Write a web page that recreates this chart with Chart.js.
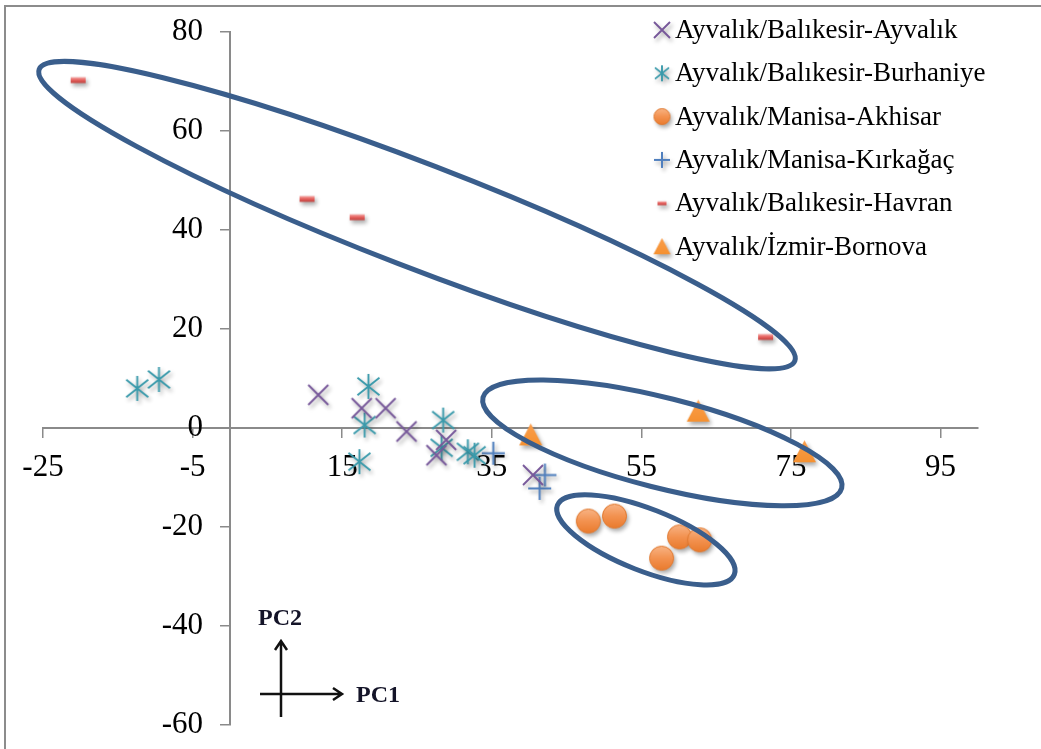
<!DOCTYPE html>
<html>
<head>
<meta charset="utf-8">
<script src="https://cdn.jsdelivr.net/npm/chart.js@4.4.1/dist/chart.umd.min.js"></script>
<style>
  html, body { margin: 0; padding: 0; background: #fff; }
  #wrap { position: relative; width: 1041px; height: 749px; overflow: hidden; }
  #frame { position: absolute; left: 4px; top: 5px; width: 1100px; height: 800px; border: 2px solid #8c8c8c; }
  #c { position: absolute; left: 0; top: 0; }
</style>
</head>
<body>
<div id="wrap">
  <div id="frame"></div>
  <canvas id="c" width="1041" height="749"></canvas>
</div>
<script>
// series
const seriesNames = [
  'Ayvalık/Balıkesir-Ayvalık',
  'Ayvalık/Balıkesir-Burhaniye',
  'Ayvalık/Manisa-Akhisar',
  'Ayvalık/Manisa-Kırkağaç',
  'Ayvalık/Balıkesir-Havran',
  'Ayvalık/İzmir-Bornova'
];
const ayvalikX = [11.8, 17.6, 20.8, 23.6, 28.9, 27.6, 40.5];
const ayvalikY = [6.7, 4.0, 4.0, -0.7, -2.4, -5.5, -9.5];
const burhaniyeX = [-12.4, -9.5, 18.5, 18.0, 17.3, 28.5, 28.3, 31.8, 32.7];
const burhaniyeY = [8.0, 9.8, 8.4, 0.6, -6.8, 1.6, -4.0, -4.8, -5.5];
const akhisarX = [47.9, 51.4, 60.1, 62.8, 57.7];
const akhisarY = [-18.8, -17.8, -22.0, -22.6, -26.3];
const kirkagacX = [35.2, 42.1, 41.4];
const kirkagacY = [-5.1, -9.5, -12.2];
const havranX = [-20.3, 10.3, 17.0, 71.6];
const havranY = [70.3, 46.3, 42.6, 18.4];
const bornovaX = [40.2, 62.6, 76.8];
const bornovaY = [-1.4, 3.4, -4.8];

const xTicks = [-25, -5, 15, 35, 55, 75, 95];
const yTicks = [-60, -40, -20, 0, 20, 40, 60, 80];

const pts = (xs, ys) => xs.map((x, i) => ({ x: x, y: ys[i] }));

// marker images (Excel look, with soft shadow)
function makeMarker(kind, size) {
  const pad = 8;
  const w = size + pad * 2, h = size + pad * 2;
  const cv = document.createElement('canvas');
  cv.width = w; cv.height = h;
  const g = cv.getContext('2d');
  g.translate(w / 2, h / 2);
  g.shadowColor = 'rgba(0,0,0,0.35)';
  g.shadowBlur = 4; g.shadowOffsetX = 2; g.shadowOffsetY = 3;
  const r = size / 2;
  g.lineCap = 'butt';
  if (kind === 'x') {
    g.strokeStyle = '#77589a'; g.lineWidth = 1.9;
    g.beginPath();
    g.moveTo(-r, -r); g.lineTo(r, r); g.moveTo(r, -r); g.lineTo(-r, r);
    g.stroke();
  } else if (kind === 'star') {
    g.strokeStyle = '#3a9aab'; g.lineWidth = 1.9;
    const d = r * 0.88;
    g.beginPath();
    g.moveTo(0, -r); g.lineTo(0, r);
    g.moveTo(-d, -d * 0.8); g.lineTo(d, d * 0.8);
    g.moveTo(d, -d * 0.8); g.lineTo(-d, d * 0.8);
    g.stroke();
  } else if (kind === 'plus') {
    g.strokeStyle = '#4f7fbe'; g.lineWidth = 2;
    g.beginPath();
    g.moveTo(0, -r); g.lineTo(0, r); g.moveTo(-r, 0); g.lineTo(r, 0);
    g.stroke();
  } else if (kind === 'circle') {
    const grd = g.createLinearGradient(0, -r, 0, r);
    grd.addColorStop(0, '#f8b587');
    grd.addColorStop(0.5, '#f39250');
    grd.addColorStop(1, '#e97a2c');
    g.fillStyle = grd;
    g.strokeStyle = '#e0782e'; g.lineWidth = 1;
    g.beginPath(); g.arc(0, 0, r - 0.5, 0, Math.PI * 2);
    g.fill();
    g.shadowColor = 'transparent';
    g.stroke();
  } else if (kind === 'dash') {
    const dw = size, dh = Math.max(4, size * 0.4);
    const grd = g.createLinearGradient(0, -dh / 2, 0, dh / 2);
    grd.addColorStop(0, '#f4b6b4');
    grd.addColorStop(0.45, '#e86562');
    grd.addColorStop(1, '#c0403d');
    g.fillStyle = grd;
    g.fillRect(-dw / 2, -dh / 2, dw, dh);
  } else if (kind === 'tri') {
    const grd = g.createLinearGradient(0, -r, 0, r);
    grd.addColorStop(0, '#fa9e4c');
    grd.addColorStop(1, '#f5902f');
    g.fillStyle = grd;
    g.beginPath();
    g.moveTo(0, -r); g.lineTo(r, r * 0.92); g.lineTo(-r, r * 0.92); g.closePath();
    g.fill();
  }
  return cv;
}

const markerKinds = ['x', 'star', 'circle', 'plus', 'dash', 'tri'];
const plotSizes = [20, 25, 25, 23, 15, 23];
const legendSizes = [16, 16, 17, 16, 9, 17];
const plotMarkers = markerKinds.map((k, i) => makeMarker(k, plotSizes[i]));
const legendMarkers = markerKinds.map((k, i) => makeMarker(k, legendSizes[i]));

// hand-drawn rings from the figure: centre in data units, radii in px, tilt in degrees
const rings = [
  { cx: 25.0, cy: 43.0, rx: 405, ry: 52, rot: 21.1 },
  { cx: 57.8, cy: -3.0, rx: 185, ry: 45, rot: 14.2 },
  { cx: 55.6, cy: -22.6, rx: 95, ry: 31, rot: 21.4 }
];

const Y_TICK_LEN = 9, Y_LABEL_PAD = 18;

const overlay = {
  id: 'overlay',
  beforeDraw(chart) {
    // y labels of an axis placed at x=0 come out flush with the line; move them left
    const ys = chart.scales.y;
    ys.getLabelItems(chart.chartArea).forEach(it => {
      if (!it._moved) { it.options.translation[0] -= Y_TICK_LEN + Y_LABEL_PAD; it._moved = true; }
    });
  },
  afterDatasetsDraw(chart) {
    const ctx = chart.ctx, xs = chart.scales.x, ys = chart.scales.y;
    ctx.save();
    ctx.strokeStyle = '#3a5e8c';
    ctx.lineWidth = 5;
    rings.forEach(e => {
      ctx.beginPath();
      ctx.ellipse(xs.getPixelForValue(e.cx), ys.getPixelForValue(e.cy), e.rx, e.ry, e.rot * Math.PI / 180, 0, Math.PI * 2);
      ctx.stroke();
    });
    ctx.restore();
  },
  afterDraw(chart) {
    const ctx = chart.ctx, a = chart.chartArea;
    ctx.save();
    // legend
    ctx.font = '27px "Liberation Serif"';
    ctx.fillStyle = '#000';
    ctx.textBaseline = 'middle';
    ctx.textAlign = 'left';
    chart.data.datasets.forEach((ds, i) => {
      const y = a.top - 2 + i * 43.3;
      const m = legendMarkers[i];
      ctx.drawImage(m, a.right - 316 - m.width / 2, y - m.height / 2);
      ctx.fillText(ds.label, a.right - 303, y + 1);
    });
    // PC1 / PC2 arrows
    const ox = a.left + 238, oy = a.bottom - 31;
    ctx.strokeStyle = '#111';
    ctx.lineWidth = 2.5;
    ctx.beginPath();
    ctx.moveTo(ox, oy + 23); ctx.lineTo(ox, oy - 53);
    ctx.moveTo(ox - 6, oy - 44); ctx.lineTo(ox, oy - 53); ctx.lineTo(ox + 6, oy - 44);
    ctx.moveTo(ox - 21, oy); ctx.lineTo(ox + 61, oy);
    ctx.moveTo(ox + 52, oy - 6); ctx.lineTo(ox + 61, oy); ctx.lineTo(ox + 52, oy + 6);
    ctx.stroke();
    ctx.font = 'bold 24px "Liberation Serif"';
    ctx.fillStyle = '#141428';
    ctx.textBaseline = 'alphabetic';
    ctx.fillText('PC2', ox - 23, oy - 69);
    ctx.fillText('PC1', ox + 75, oy + 8);
    ctx.restore();
  }
};

const axisGrey = '#8a8a8a';
const tickFont = { family: 'Liberation Serif', size: 31 };
const noPad = s => { s.paddingLeft = 0; s.paddingRight = 0; s.paddingTop = 0; s.paddingBottom = 0; };

new Chart(document.getElementById('c'), {
  type: 'scatter',
  data: {
    datasets: [
      { label: seriesNames[0], data: pts(ayvalikX, ayvalikY), pointStyle: plotMarkers[0] },
      { label: seriesNames[1], data: pts(burhaniyeX, burhaniyeY), pointStyle: plotMarkers[1] },
      { label: seriesNames[2], data: pts(akhisarX, akhisarY), pointStyle: plotMarkers[2] },
      { label: seriesNames[3], data: pts(kirkagacX, kirkagacY), pointStyle: plotMarkers[3] },
      { label: seriesNames[4], data: pts(havranX, havranY), pointStyle: plotMarkers[4] },
      { label: seriesNames[5], data: pts(bornovaX, bornovaY), pointStyle: plotMarkers[5] }
    ]
  },
  options: {
    responsive: false,
    animation: false,
    devicePixelRatio: 1,
    layout: { padding: { left: 43, top: 32, right: 63, bottom: 24 } },
    plugins: { legend: { display: false }, tooltip: { enabled: false } },
    scales: {
      x: {
        type: 'linear', min: -25, max: 100,
        position: { y: 0 },
        afterBuildTicks: s => { s.ticks = xTicks.map(v => ({ value: v })); },
        afterFit: noPad,
        grid: { drawOnChartArea: false, drawTicks: true, tickLength: 9, color: axisGrey, lineWidth: 1.5 },
        border: { color: axisGrey, width: 2 },
        ticks: { font: tickFont, color: '#000', padding: 12, maxRotation: 0, autoSkip: false }
      },
      y: {
        type: 'linear', min: -60, max: 80,
        position: { x: 0 },
        afterBuildTicks: s => { s.ticks = yTicks.map(v => ({ value: v })); },
        afterFit: noPad,
        grid: { drawOnChartArea: false, drawTicks: true, tickLength: Y_TICK_LEN, color: axisGrey, lineWidth: 1.5 },
        border: { color: axisGrey, width: 2 },
        ticks: { font: tickFont, color: '#000', padding: Y_LABEL_PAD, autoSkip: false }
      }
    }
  },
  plugins: [overlay]
});
</script>
</body>
</html>
